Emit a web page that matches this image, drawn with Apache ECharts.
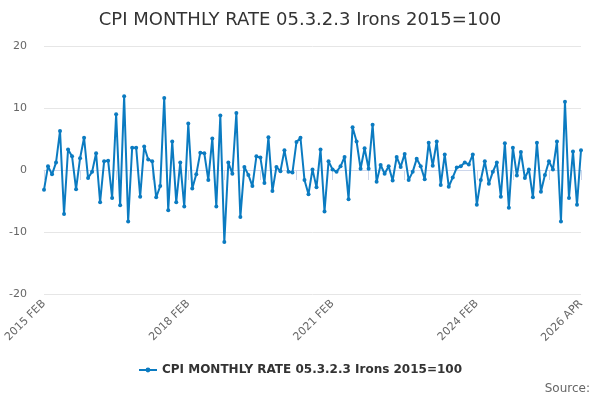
<!DOCTYPE html>
<html>
<head>
<meta charset="utf-8">
<script src="https://cdn.jsdelivr.net/npm/echarts@6/dist/echarts.min.js"></script>
<style>
  html, body { margin: 0; padding: 0; background: #fff; }
  #main { width: 600px; height: 400px; }
</style>
</head>
<body>
<div id="main"></div>
<script>
// monthly rate, 2015 FEB .. 2026 APR
var startYear = 2015, startMonth = 1; // 0-based month (FEB)
var monthNames = ['JAN','FEB','MAR','APR','MAY','JUN','JUL','AUG','SEP','OCT','NOV','DEC'];

var rates = [
  -3.2, 0.6, -0.7, 1.2, 6.3, -7.1, 3.3, 2.2, -3.1, 1.9,
  5.2, -1.3, -0.3, 2.7, -5.2, 1.4, 1.5, -4.5, 9.0, -5.7,
  11.9, -8.3, 3.6, 3.6, -4.3, 3.8, 1.7, 1.4, -4.4, -2.6,
  11.6, -6.5, 4.6, -5.2, 1.2, -5.9, 7.5, -3.0, -0.7, 2.8,
  2.7, -1.6, 5.1, -5.9, 8.8, -11.6, 1.2, -0.6, 9.2, -7.6,
  0.5, -0.8, -2.6, 2.2, 2.0, -2.1, 5.3, -3.4, 0.5, -0.2,
  3.2, -0.3, -0.4, 4.5, 5.2, -1.6, -3.9, 0.1, -2.8, 3.3,
  -6.7, 1.4, 0.1, -0.3, 0.6, 2.1, -4.7, 6.9, 4.6, 0.2,
  3.5, 0.2, 7.3, -1.9, 0.8, -0.6, 0.6, -1.7, 2.1, 0.5,
  2.6, -1.6, -0.3, 1.8, 0.6, -1.5, 4.4, 0.7, 4.6, -2.4,
  2.5, -2.7, -1.2, 0.4, 0.6, 1.2, 0.9, 2.5, -5.6, -1.6,
  1.4, -2.2, -0.3, 1.2, -4.3, 4.3, -6.1, 3.6, -0.9, 2.9,
  -1.3, 0.1, -4.4, 4.4, -3.5, -0.8, 1.4, 0.1, 4.6, -8.3,
  11.0, -4.5, 3.0, -5.6, 3.2
];

var yTicks = [-20, -10, 0, 10, 20];

var months = [];
for (var i = 0; i < rates.length; i++) {
  var m = startMonth + i;
  months.push((startYear + Math.floor(m / 12)) + ' ' + monthNames[m % 12]);
}
var last = months.length - 1;

var myChart = echarts.init(document.getElementById('main'));

var option = {
  animation: false,
  textStyle: { fontFamily: 'DejaVu Sans' },
  title: {
    text: 'CPI MONTHLY RATE 05.3.2.3 Irons 2015=100',
    left: 'center',
    top: 6,
    textStyle: { fontSize: 18, fontWeight: 'normal', color: '#333333', fontFamily: 'DejaVu Sans' }
  },
  legend: {
    bottom: 19,
    left: 'center',
    itemWidth: 18,
    itemHeight: 6,
    itemGap: 5,
    textStyle: { fontSize: 12, fontWeight: 'bold', color: '#333333', fontFamily: 'DejaVu Sans' },
    data: ['CPI MONTHLY RATE 05.3.2.3 Irons 2015=100']
  },
  graphic: [{
    type: 'text',
    right: 10,
    top: 383,
    style: { text: 'Source:', fill: '#666666', font: '12px DejaVu Sans' }
  }],
  grid: { left: 44, right: 19, top: 46, bottom: 106, outerBoundsMode: 'none', containLabel: false },
  xAxis: {
    type: 'category',
    boundaryGap: false,
    data: months,
    axisLine: { lineStyle: { color: '#ccd6eb', width: 1 } },
    axisTick: {
      length: 10,
      lineStyle: { color: '#ccd6eb' },
      interval: function (idx) { return idx % 9 === 0 || idx === last; }
    },
    axisLabel: {
      rotate: 45,
      color: '#666666',
      fontSize: 11,
      margin: 8,
      interval: function (idx) { return idx % 36 === 0 || idx === last; }
    }
  },
  yAxis: {
    type: 'value',
    min: yTicks[0],
    max: yTicks[yTicks.length - 1],
    interval: 10,
    axisLine: { show: false },
    axisTick: { show: false },
    axisLabel: { color: '#666666', fontSize: 11, margin: 17 },
    splitLine: { lineStyle: { color: '#e6e6e6' } }
  },
  series: [{
    name: 'CPI MONTHLY RATE 05.3.2.3 Irons 2015=100',
    type: 'line',
    data: rates,
    symbol: 'circle',
    symbolSize: 4,
    showAllSymbol: true,
    lineStyle: { width: 2, color: '#0b7bc1' },
    itemStyle: { color: '#0b7bc1' }
  }]
};

myChart.setOption(option);
</script>
</body>
</html>
